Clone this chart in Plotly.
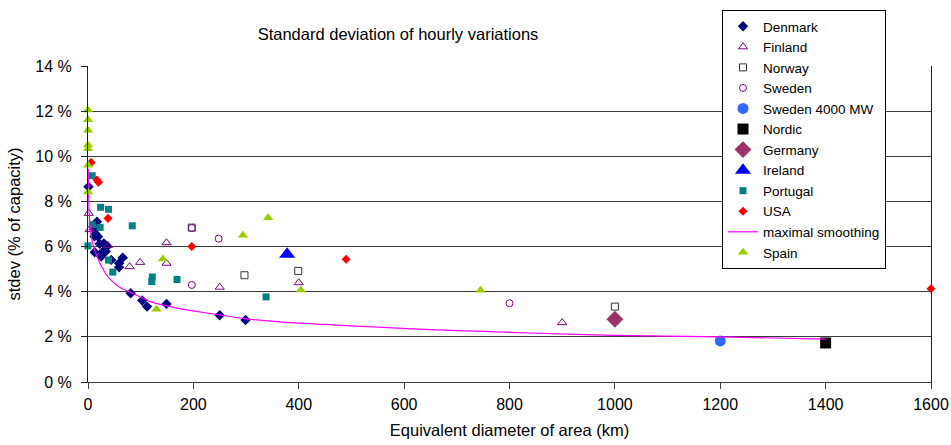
import plotly.graph_objects as go

# ---------------- data ----------------
denmark_x = [1, 17, 11, 14.5, 19, 12.5, 22, 30, 36, 28.5, 33.5, 12.7, 25, 44, 66, 59, 59, 81, 103, 112, 149, 250, 299]
denmark_y = [8.65, 7.1, 6.76, 6.56, 6.44, 6.45, 6.12, 6.14, 6.0, 5.78, 5.78, 5.75, 5.56, 5.41, 5.51, 5.26, 5.08, 3.93, 3.61, 3.34, 3.46, 2.96, 2.75]

finland_x = [1.5, 3, 38, 79, 99, 149, 149, 250, 400, 900]
finland_y = [7.47, 6.75, 6.05, 5.11, 5.3, 6.17, 5.26, 4.2, 4.4, 2.63]

norway_x = [197, 297, 399, 1000]
norway_y = [6.84, 4.73, 4.92, 3.34]

sweden_x = [197, 248, 197, 800]
sweden_y = [6.82, 6.35, 4.3, 3.49]

sweden4000_x = [1200]
sweden4000_y = [1.82]

nordic_x = [1400]
nordic_y = [1.73]

germany_x = [1000]
germany_y = [2.78]

ireland_x = [378]
ireland_y = [5.66]

portugal_x = [8, 24, 39, 8, 23, 0, 84, 39, 47, 122, 121, 169, 338]
portugal_y = [9.14, 7.74, 7.65, 6.97, 6.85, 6.03, 6.92, 5.4, 4.87, 4.65, 4.45, 4.54, 3.77]

usa_x = [6, 17, 20, 38, 197, 490, 1600]
usa_y = [9.73, 8.95, 8.85, 7.25, 6.0, 5.44, 4.13]

smooth_x = [0.5, 1, 2, 4, 6, 10, 15, 25, 40, 60, 80, 120, 160, 200, 250, 300, 370, 450, 500, 560, 650, 750, 850, 1000, 1200, 1400]
smooth_y = [9.45, 8.6, 7.6, 6.9, 6.5, 6.05, 5.7, 5.15, 4.6, 4.2, 3.98, 3.55, 3.32, 3.15, 2.97, 2.8, 2.65, 2.55, 2.49, 2.42, 2.32, 2.24, 2.16, 2.07, 2.0, 1.9]

spain_x = [0, 0, 0, 0, 0, 0, 0, 130, 142, 294, 342, 404, 745]
spain_y = [12.05, 11.62, 11.15, 10.5, 10.33, 9.6, 8.42, 3.22, 5.45, 6.5, 7.28, 4.08, 4.07]

x_ticks = [0, 200, 400, 600, 800, 1000, 1200, 1400, 1600]
y_ticks = [0, 2, 4, 6, 8, 10, 12, 14]

FONT = "Liberation Sans, Arial, sans-serif"

fig = go.Figure()


def pts(name, x, y, symbol, color, size, open_=False):
    marker = dict(symbol=symbol, size=size, color=color)
    if open_:
        marker["line"] = dict(color=color, width=1)
    else:
        marker["line"] = dict(width=0)
    fig.add_trace(go.Scatter(x=x, y=y, mode="markers", name=name,
                             marker=marker, cliponaxis=False))


pts("Denmark", denmark_x, denmark_y, "diamond", "#000080", 8)
pts("Finland", finland_x, finland_y, "triangle-up-open", "#800080", 8, True)
pts("Norway", norway_x, norway_y, "square-open", "#333333", 7, True)
pts("Sweden", sweden_x, sweden_y, "circle-open", "#800080", 7, True)
pts("Sweden 4000 MW", sweden4000_x, sweden4000_y, "circle", "#3366FF", 11)
pts("Nordic", nordic_x, nordic_y, "square", "#000000", 11)
pts("Germany", germany_x, germany_y, "diamond", "#993366", 13)
pts("Ireland", ireland_x, ireland_y, "triangle-up", "#0000FF", 14)
pts("Portugal", portugal_x, portugal_y, "square", "#008080", 7)
pts("USA", usa_x, usa_y, "diamond", "#FF0000", 7)
fig.add_trace(go.Scatter(x=smooth_x, y=smooth_y, mode="lines", name="maximal smoothing",
                         line=dict(color="#FF00FF", width=1.2, shape="spline", smoothing=0.6),
                         cliponaxis=False))
pts("Spain", spain_x, spain_y, "triangle-up", "#99CC00", 9)

fig.update_layout(
    width=951, height=445,
    margin=dict(l=88, r=20, t=66, b=63, autoexpand=False),
    paper_bgcolor="white", plot_bgcolor="white",
    font=dict(family=FONT, size=16, color="black"),
    title=dict(text="Standard deviation of hourly variations",
               x=398 / 951, xref="container", xanchor="center",
               y=1 - 34 / 445, yref="container", yanchor="middle",
               font=dict(family=FONT, size=16.5, color="black")),
    showlegend=True,
    legend=dict(x=(722 - 88) / 843, xanchor="left", y=1 + (66 - 10) / 316, yanchor="top",
                bgcolor="white", bordercolor="black", borderwidth=1,
                font=dict(family=FONT, size=13.5, color="black"),
                tracegroupgap=0, itemwidth=30, maxheight=420),
    xaxis=dict(range=[0, 1600], tickvals=x_ticks, ticktext=[str(v) for v in x_ticks],
               automargin=False,
               showgrid=False, zeroline=False,
               showline=True, linecolor="#404040", linewidth=1,
               ticks="outside", ticklen=6, tickcolor="#404040",
               ticklabelstandoff=2,
               tickfont=dict(family=FONT, size=16),
               title=dict(text="Equivalent diameter of area (km)", standoff=12,
                          font=dict(family=FONT, size=16.5))),
    yaxis=dict(range=[0, 14], tickvals=y_ticks, ticktext=[f"{v} %" for v in y_ticks],
               automargin=False,
               showgrid=True, gridcolor="#3c3c3c", gridwidth=1, zeroline=False,
               showline=True, linecolor="#202020", linewidth=1, mirror=True,
               ticks="outside", ticklen=6, tickcolor="#202020",
               ticklabelstandoff=6,
               tickfont=dict(family=FONT, size=16),
               title=dict(text="stdev (% of capacity)", standoff=10,
                          font=dict(family=FONT, size=16.5))),
)

fig.write_html("out.html",
               config={"displayModeBar": False},
               post_script="document.body.style.margin='0px';document.body.style.overflow='hidden';")
